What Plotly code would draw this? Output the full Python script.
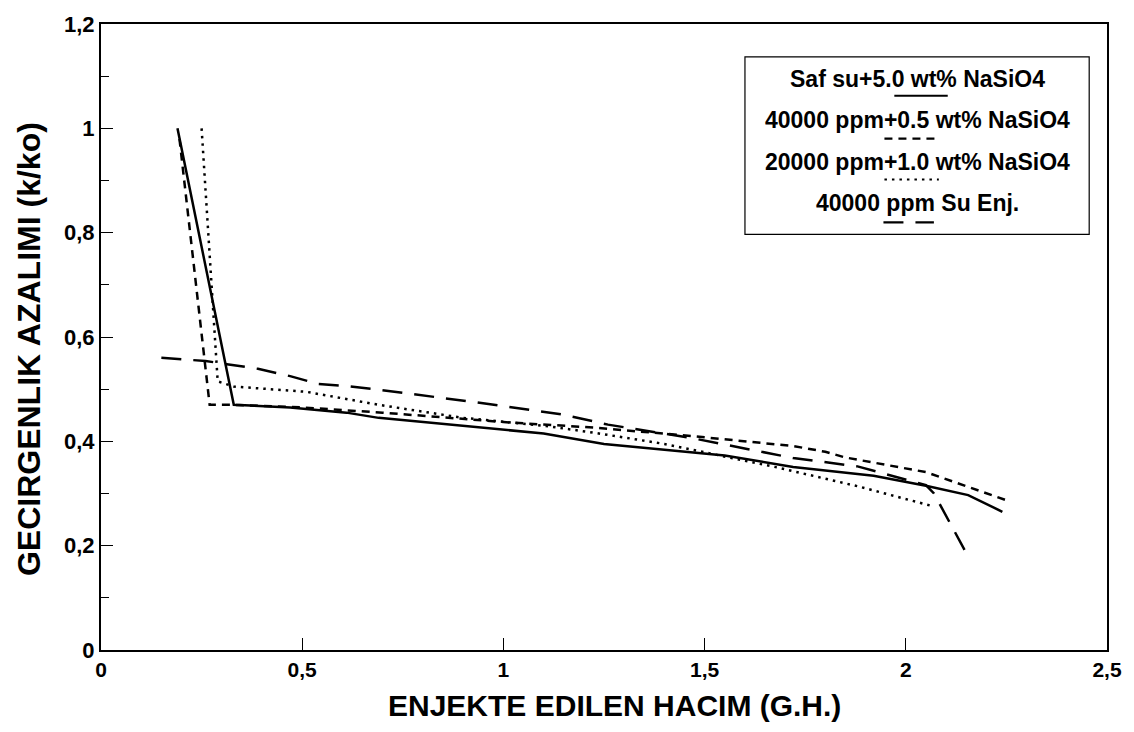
import plotly.graph_objects as go

# ---- data ----
saf_x = [0.19, 0.33, 0.47, 0.61, 0.69, 1.10, 1.25, 1.55, 1.72, 1.92, 2.05, 2.155, 2.24]
saf_y = [1.00, 0.47, 0.465, 0.455, 0.445, 0.415, 0.395, 0.373, 0.351, 0.334, 0.315, 0.297, 0.265]

p40_x = [0.195, 0.27, 0.33, 0.50, 0.70, 1.00, 1.23, 1.47, 1.72, 1.80, 1.85, 2.05, 2.25]
p40_y = [0.98, 0.47, 0.47, 0.465, 0.455, 0.437, 0.426, 0.41, 0.391, 0.38, 0.369, 0.341, 0.287]

p20_x = [0.25, 0.29, 0.33, 0.51, 0.69, 0.90, 1.10, 1.23, 1.40, 1.68, 1.88, 2.07]
p20_y = [1.00, 0.515, 0.505, 0.495, 0.47, 0.445, 0.43, 0.416, 0.395, 0.35, 0.314, 0.275]

su_x = [0.15, 0.26, 0.39, 0.47, 0.54, 0.61, 0.69, 0.93, 1.15, 1.26, 1.47, 1.72, 1.88, 2.05, 2.07, 2.16]
su_y = [0.56, 0.554, 0.539, 0.525, 0.51, 0.506, 0.499, 0.475, 0.451, 0.432, 0.406, 0.368, 0.352, 0.316, 0.30, 0.172]

series_names = ["Saf su+5.0 wt% NaSiO4", "40000 ppm+0.5 wt% NaSiO4",
                "20000 ppm+1.0 wt% NaSiO4", "40000 ppm Su Enj."]
x_ticks = [0, 0.5, 1, 1.5, 2, 2.5]
x_tick_labels = ["0", "0,5", "1", "1,5", "2", "2,5"]
y_ticks = [0, 0.2, 0.4, 0.6, 0.8, 1.0, 1.2]
y_tick_labels = ["0", "0,2", "0,4", "0,6", "0,8", "1", "1,2"]
x_title = "ENJEKTE EDILEN HACIM (G.H.)"
y_title = "GECIRGENLIK AZALIMI (k/ko)"

dashes = ["solid", "8px,6px", "2.5px,5px", "20px,12px"]
xs = [saf_x, p40_x, p20_x, su_x]
ys = [saf_y, p40_y, p20_y, su_y]

FONT = "Liberation Sans, Arial, sans-serif"

fig = go.Figure()
for name, x, y, d in zip(series_names, xs, ys, dashes):
    fig.add_trace(go.Scatter(x=x, y=y, mode="lines", name=name,
                             line=dict(color="black", width=2.5, dash=d),
                             showlegend=False))

fig.update_layout(
    width=1134, height=732,
    margin=dict(l=101, r=16, t=22, b=82),
    paper_bgcolor="white", plot_bgcolor="white",
    separators=",.",
    showlegend=False,
)
fig.update_xaxes(range=[0, 2.5], tickvals=x_ticks, ticktext=x_tick_labels,
                 ticks="inside", ticklen=12, tickwidth=1.2, tickcolor="black",
                 showgrid=False, zeroline=False,
                 showline=True, linecolor="black", linewidth=2, mirror=True,
                 tickfont=dict(family=FONT, size=21, color="black", weight="bold"))
fig.update_yaxes(range=[0, 1.2], tickvals=y_ticks, ticktext=y_tick_labels,
                 ticks="inside", ticklen=12, tickwidth=1.2, tickcolor="black",
                 minor=dict(dtick=0.1, ticks="inside", ticklen=8, tickcolor="black", tickwidth=1),
                 showgrid=False, zeroline=False,
                 showline=True, linecolor="black", linewidth=2, mirror=True,
                 tickfont=dict(family=FONT, size=22, color="black", weight="bold"))

# axis titles
fig.add_annotation(text="<b>%s</b>" % x_title, xref="paper", yref="paper", x=0.51, y=-0.089,
                   xanchor="center", yanchor="middle", showarrow=False,
                   font=dict(family=FONT, size=30, color="black"))
fig.add_annotation(text="<b>%s</b>" % y_title, xref="paper", yref="paper", x=-0.072, y=0.48,
                   xanchor="center", yanchor="middle", showarrow=False, textangle=-90,
                   font=dict(family=FONT, size=32, color="black"))

# custom legend box (paper coords)
def px2x(px):
    return (px - 101) / 1017.0

def py2y(py):
    return (650 - py) / 628.0

fig.add_shape(type="rect", xref="paper", yref="paper",
              x0=px2x(752), x1=px2x(1100), y0=py2y(233), y1=py2y(55),
              line=dict(color="black", width=1.2), fillcolor="white", layer="above")

text_rows = [77, 118, 160, 202]
sample_rows = [94, 137, 178, 221]
sample_x = [(903, 957), (893, 947), (893, 948), (892, 943)]
for name, ty, sy, (sx0, sx1), d in zip(series_names, text_rows, sample_rows, sample_x, dashes):
    fig.add_annotation(text="<b>%s</b>" % name, xref="paper", yref="paper", x=px2x(926), y=py2y(ty),
                       xanchor="center", yanchor="middle", showarrow=False,
                       font=dict(family=FONT, size=23, color="black"))
    fig.add_shape(type="line", xref="paper", yref="paper",
                  x0=px2x(sx0), x1=px2x(sx1), y0=py2y(sy), y1=py2y(sy),
                  line=dict(color="black", width=2.2, dash=d), layer="above")

fig.write_html("out.html")
